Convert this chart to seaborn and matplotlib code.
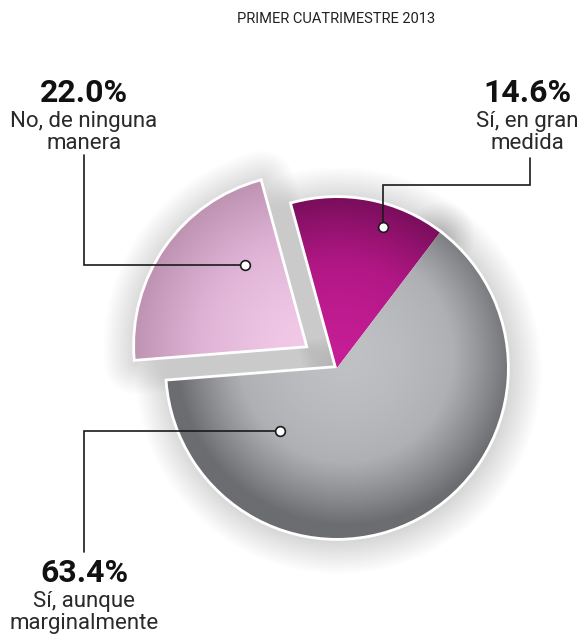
import numpy as np
import matplotlib.pyplot as plt
from matplotlib.colors import LinearSegmentedColormap
from matplotlib.patches import Wedge
import seaborn as sns

# data
title = "PRIMER CUATRIMESTRE 2013"
answers = ["Sí, en gran\nmedida", "Sí, aunque\nmarginalmente", "No, de ninguna\nmanera"]
shares = [14.6, 63.4, 22.0]
explode = [0, 0, 0.23]

# colours (centre -> rim of each radial gradient)
grad_colors = [["#c71e96", "#b01784", "#7a0e5c"],
               ["#c0c1c4", "#aeb0b3", "#6b6d70"],
               ["#f1c9e7", "#deb2d4", "#bf93b2"]]

W, H = 585, 635
R = 170.0
CX, CY = 337, 368


def px(x, y):
    # pixel position -> data coords (pie radius == 1)
    return (x - CX) / R, (CY - y) / R


sns.set_theme(style="white")
plt.rcParams['font.family'] = ['Roboto', 'DejaVu Sans']

fig = plt.figure(figsize=(W / 100, H / 100), dpi=100)
ax = fig.add_axes([0, 0, 1, 1])

wedges, _ = ax.pie(shares, explode=explode, startangle=105.3, counterclock=False,
                   radius=1, wedgeprops=dict(facecolor='white', edgecolor='white',
                                             linewidth=4, zorder=2, joinstyle='miter'))
ax.set_xlim(-CX / R, (W - CX) / R)
ax.set_ylim(-(H - CY) / R, CY / R)
ax.set_aspect('equal')
ax.axis('off')

# soft shadow
sh = (0.01, -0.015)
for w in wedges:
    for lw in np.linspace(48, 3, 20):
        ax.add_patch(Wedge((w.center[0] + sh[0], w.center[1] + sh[1]), w.r, w.theta1, w.theta2,
                           facecolor='none', edgecolor=(0, 0, 0, 0.0075), linewidth=lw,
                           joinstyle='round', zorder=1))

# radial gradients clipped to the wedges
focus = [(0.0, 0.0), (0.05, 0.08), None]
for w, cols, f in zip(wedges, grad_colors, focus):
    cx, cy = w.center
    gx, gy = (cx, cy) if f is None else f
    n = 400
    xs = np.linspace(cx - 1.05, cx + 1.05, n)
    ys = np.linspace(cy - 1.05, cy + 1.05, n)
    X, Y = np.meshgrid(xs, ys)
    d = np.clip(np.hypot(X - gx, Y - gy), 0, 1) ** 1.5
    cmap = LinearSegmentedColormap.from_list("g", cols)
    im = ax.imshow(cmap(d), extent=(xs[0], xs[-1], ys[0], ys[-1]), origin='lower',
                   interpolation='bilinear', zorder=3)
    im.set_clip_path(w)

# leader lines
anchor_ang = [71.9, 228.3, 126.7]
anchor_r = [0.87, 0.50, 0.59]
anchors = []
for w, a, r in zip(wedges, anchor_ang, anchor_r):
    cx, cy = w.center
    anchors.append((cx + r * np.cos(np.radians(a)), cy + r * np.sin(np.radians(a))))

paths = [[anchors[0], (anchors[0][0], px(0, 185)[1]), px(530, 185), px(530, 158)],
         [anchors[1], (px(84, 0)[0], anchors[1][1]), px(84, 552)],
         [anchors[2], (px(84, 0)[0], anchors[2][1]), px(84, 155)]]
for p in paths:
    xs_, ys_ = zip(*p)
    ax.plot(xs_, ys_, color='#1a1a1a', lw=1.2, zorder=5, solid_joinstyle='miter')
for a in anchors:
    ax.plot(*a, marker='o', ms=7, mfc='white', mec='#1a1a1a', mew=1.2, zorder=6)

# labels
label_x = [527, 84, 84]
label_base = [102, 582, 102]
for share, txt, lx, ly in zip(shares, answers, label_x, label_base):
    ax.text(*px(lx, ly), f"{share:.1f}%", ha='center', va='baseline', fontsize=23,
            fontweight='bold', color='#111111', zorder=7)
    for i, line in enumerate(txt.split("\n")):
        ax.text(*px(lx, ly + 25 + 22 * i), line, ha='center', va='baseline', fontsize=16,
                color='#2a2a2a', zorder=7)

ax.text(*px(336, 23), title, ha='center', va='baseline', fontsize=10.5, color='#222222')

fig.savefig("out.png", dpi=100)
